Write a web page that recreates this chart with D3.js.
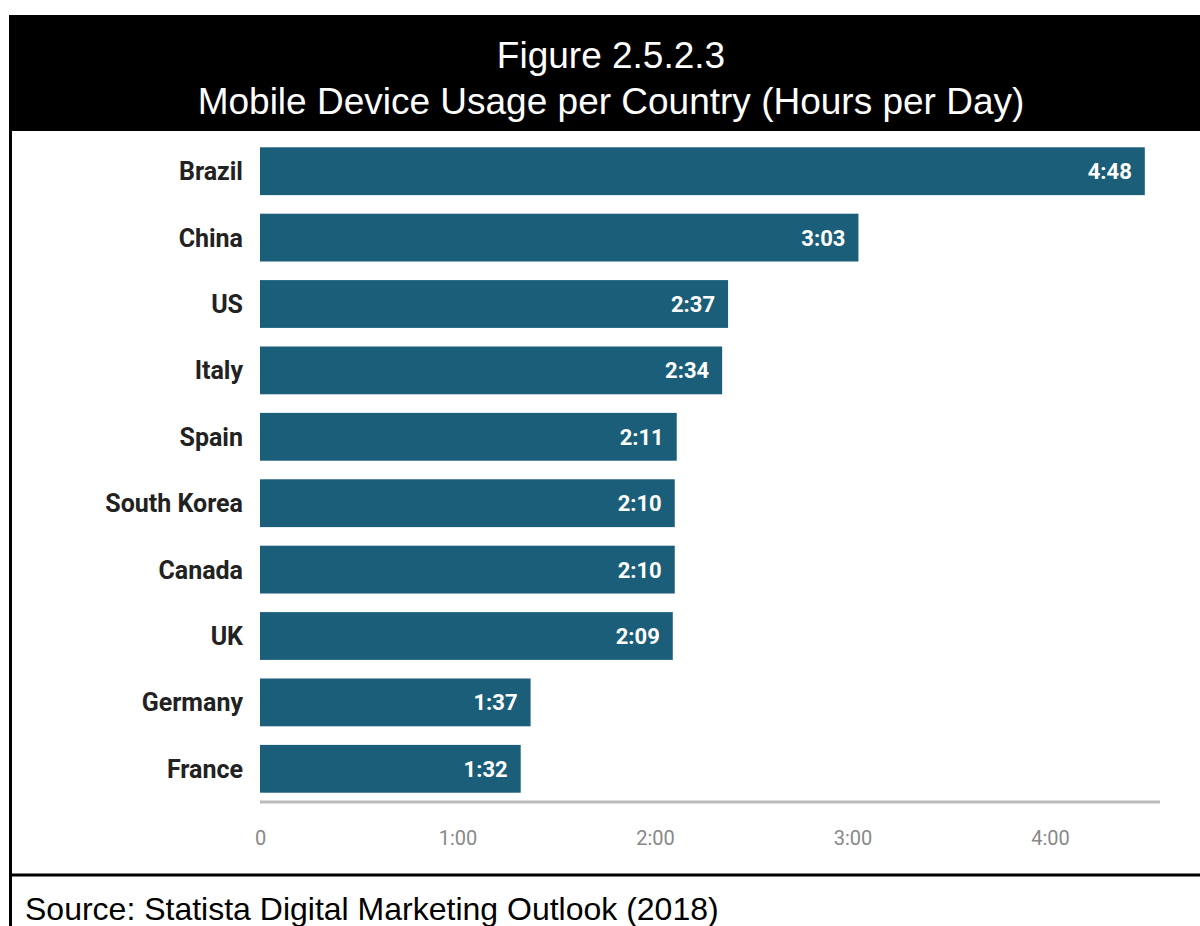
<!DOCTYPE html>
<html>
<head>
<meta charset="utf-8">
<script src="https://cdn.jsdelivr.net/npm/d3@7"></script>
<style>
    body { margin: 0; background: #fff; }
    svg { display: block; }
</style>
</head>
<body>
<svg id="chart"></svg>
<script>
// chart data
const countries = ['Brazil', 'China', 'US', 'Italy', 'Spain', 'South Korea', 'Canada', 'UK', 'Germany', 'France']
// bars are drawn with the h.mm value taken as a decimal, like the source chart
const usage = [4.48, 3.03, 2.37, 2.34, 2.11, 2.10, 2.10, 2.09, 1.37, 1.32]
const usageLabels = ['4:48', '3:03', '2:37', '2:34', '2:11', '2:10', '2:10', '2:09', '1:37', '1:32']
const tickValues = [0, 1, 2, 3, 4]
const tickLabels = ['0', '1:00', '2:00', '3:00', '4:00']

const width = 1200
const height = 926
const svg = d3.select('#chart').attr('width', width).attr('height', height)

// title block
svg.append('rect')
    .attr('x', 9).attr('y', 15)
    .attr('width', width - 9).attr('height', 116)
    .style('fill', '#000')
const title = svg.append('g')
    .style('font-family', '"Liberation Sans", Arial, sans-serif')
    .style('font-size', '37px')
    .style('fill', '#fff')
    .attr('text-anchor', 'middle')
title.append('text').attr('x', 611).attr('y', 68).text('Figure 2.5.2.3')
title.append('text').attr('x', 611).attr('y', 114).text('Mobile Device Usage per Country (Hours per Day)')

// frame lines
svg.append('line')
    .attr('x1', 10.5).attr('x2', 10.5).attr('y1', 131).attr('y2', height)
    .style('stroke', '#000').style('stroke-width', 3)
svg.append('line')
    .attr('x1', 9).attr('x2', width).attr('y1', 875).attr('y2', 875)
    .style('stroke', '#000').style('stroke-width', 3)

// source note
svg.append('text')
    .attr('x', 25).attr('y', 920)
    .style('font-family', '"Liberation Sans", Arial, sans-serif')
    .style('font-size', '32px')
    .style('fill', '#000')
    .text('Source: Statista Digital Marketing Outlook (2018)')

// scales
const x = d3.scaleLinear().domain([0, 4]).range([260, 1050])
const y = d3.scaleBand().domain(countries).range([138, 802]).paddingInner(0.28).paddingOuter(0.14)

const rows = countries.map(function (c, i) {
    return { country: c, value: usage[i], label: usageLabels[i] }
})

// bars
svg.append('g').attr('class', 'bars')
    .selectAll('rect')
    .data(rows)
    .join('rect')
    .attr('x', x(0))
    .attr('y', d => y(d.country))
    .attr('width', d => x(d.value) - x(0))
    .attr('height', y.bandwidth())
    .style('fill', '#1b5e7a')

// value labels inside bars
svg.append('g').attr('class', 'values')
    .selectAll('text')
    .data(rows)
    .join('text')
    .attr('x', d => x(d.value) - 13)
    .attr('y', d => y(d.country) + y.bandwidth() / 2)
    .attr('dy', '0.36em')
    .attr('text-anchor', 'end')
    .style('font-family', 'Roboto, sans-serif')
    .style('font-weight', 'bold')
    .style('font-size', '22px')
    .style('fill', '#fff')
    .text(d => d.label)

// category axis (labels only)
const yAxis = svg.append('g')
    .attr('transform', 'translate(' + 243 + ',0)')
    .call(d3.axisLeft(y).tickSize(0).tickPadding(0))
yAxis.select('.domain').remove()
yAxis.selectAll('text')
    .attr('dy', '0.36em')
    .style('font-family', 'Roboto, sans-serif')
    .style('font-weight', 'bold')
    .style('font-size', '25px')
    .style('fill', '#222')

// value axis
const xAxis = svg.append('g')
    .attr('transform', 'translate(0,802)')
    .call(d3.axisBottom(x).tickValues(tickValues).tickFormat((d, i) => tickLabels[i]).tickSize(0).tickPadding(29))
xAxis.select('.domain').remove()
xAxis.append('line')
    .attr('x1', x(0)).attr('x2', 1160)
    .style('stroke', '#bbb').style('stroke-width', 3)
xAxis.selectAll('text')
    .style('font-family', 'Roboto, sans-serif')
    .style('font-size', '20px')
    .style('fill', '#888')
</script>
</body>
</html>
